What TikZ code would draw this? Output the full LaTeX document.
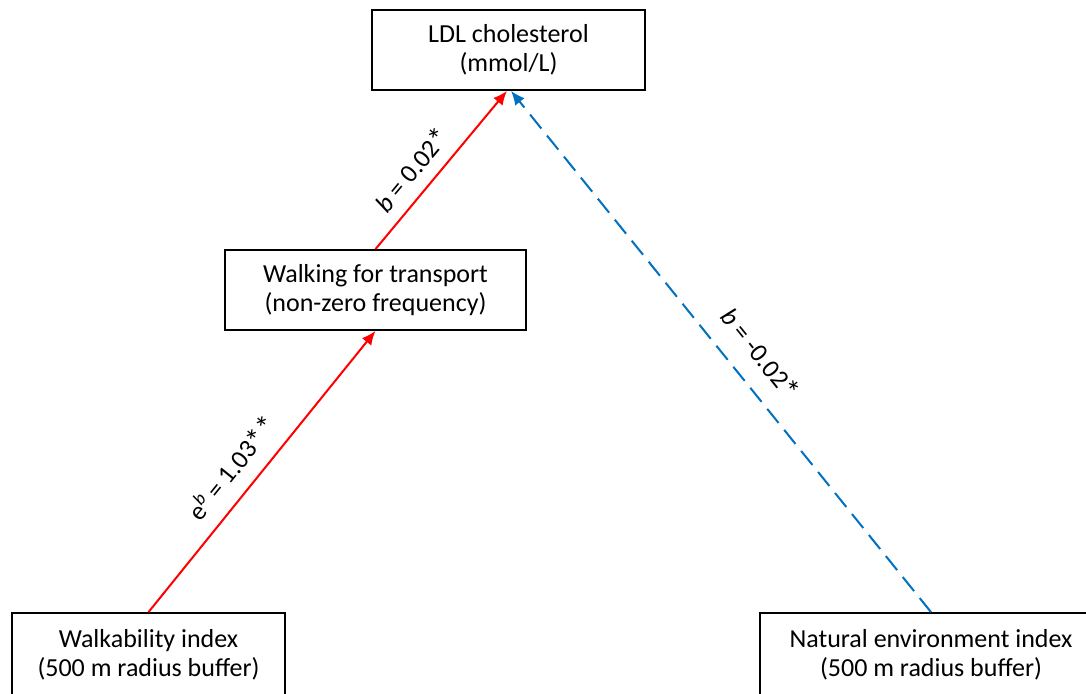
\documentclass[tikz,border=0pt]{standalone}
\usepackage{fontspec}
\setmainfont{Carlito}
\usetikzlibrary{arrows.meta,calc}
\definecolor{arrred}{RGB}{255,0,0}
\definecolor{arrblue}{RGB}{0,112,192}
\newcommand{\bigstar}{\raisebox{-0.08em}{\scalebox{1.2}{*}}}
\begin{document}
\begin{tikzpicture}[x=1pt,y=-1pt,
  box/.style={draw=black,line width=1.8pt,rectangle,align=center,inner sep=0pt,
    font=\fontsize{26}{29}\selectfont},
  lbl/.style={font=\fontsize{26}{29}\selectfont,sloped,inner sep=2pt},
  redarrow/.style={draw=arrred,line width=2pt,-{Latex[length=14pt,width=12pt]}},
  bluearrow/.style={draw=arrblue,line width=2pt,dash pattern=on 18pt off 9pt,-{Latex[length=14pt,width=12pt]}}
]
\clip (0,0) rectangle (1086,693);
\fill[white] (0,0) rectangle (1086,693);
\node[box,minimum width=273pt,minimum height=80pt] (ldl) at (508.5,50) {LDL cholesterol\\(mmol/L)};
\node[box,minimum width=301pt,minimum height=80pt] (walk) at (375.5,290) {Walking for transport\\(non-zero frequency)};
\node[box,minimum width=273pt,minimum height=84pt] (wi) at (148.5,655) {Walkability index\\(500 m radius buffer)};
\node[box,minimum width=342pt,minimum height=84pt] (nei) at (931,655) {Natural environment index\\(500 m radius buffer)};
\draw[redarrow] (wi.north) -- node[lbl,pos=0.455,above=11pt] {e\textsuperscript{\textit{b}} = 1.03\bigstar\bigstar} (walk.south);
\draw[redarrow] (walk.north) -- node[lbl,pos=0.41,above=8pt] {\textit{b} = 0.02\bigstar} ($(ldl.south)+(-1.5,0)$);
\draw[bluearrow] (nei.north) -- node[lbl,pos=0.46,above=15pt] {\textit{b} = -0.02\bigstar} ($(ldl.south)+(2.5,0)$);
\end{tikzpicture}
\end{document}
